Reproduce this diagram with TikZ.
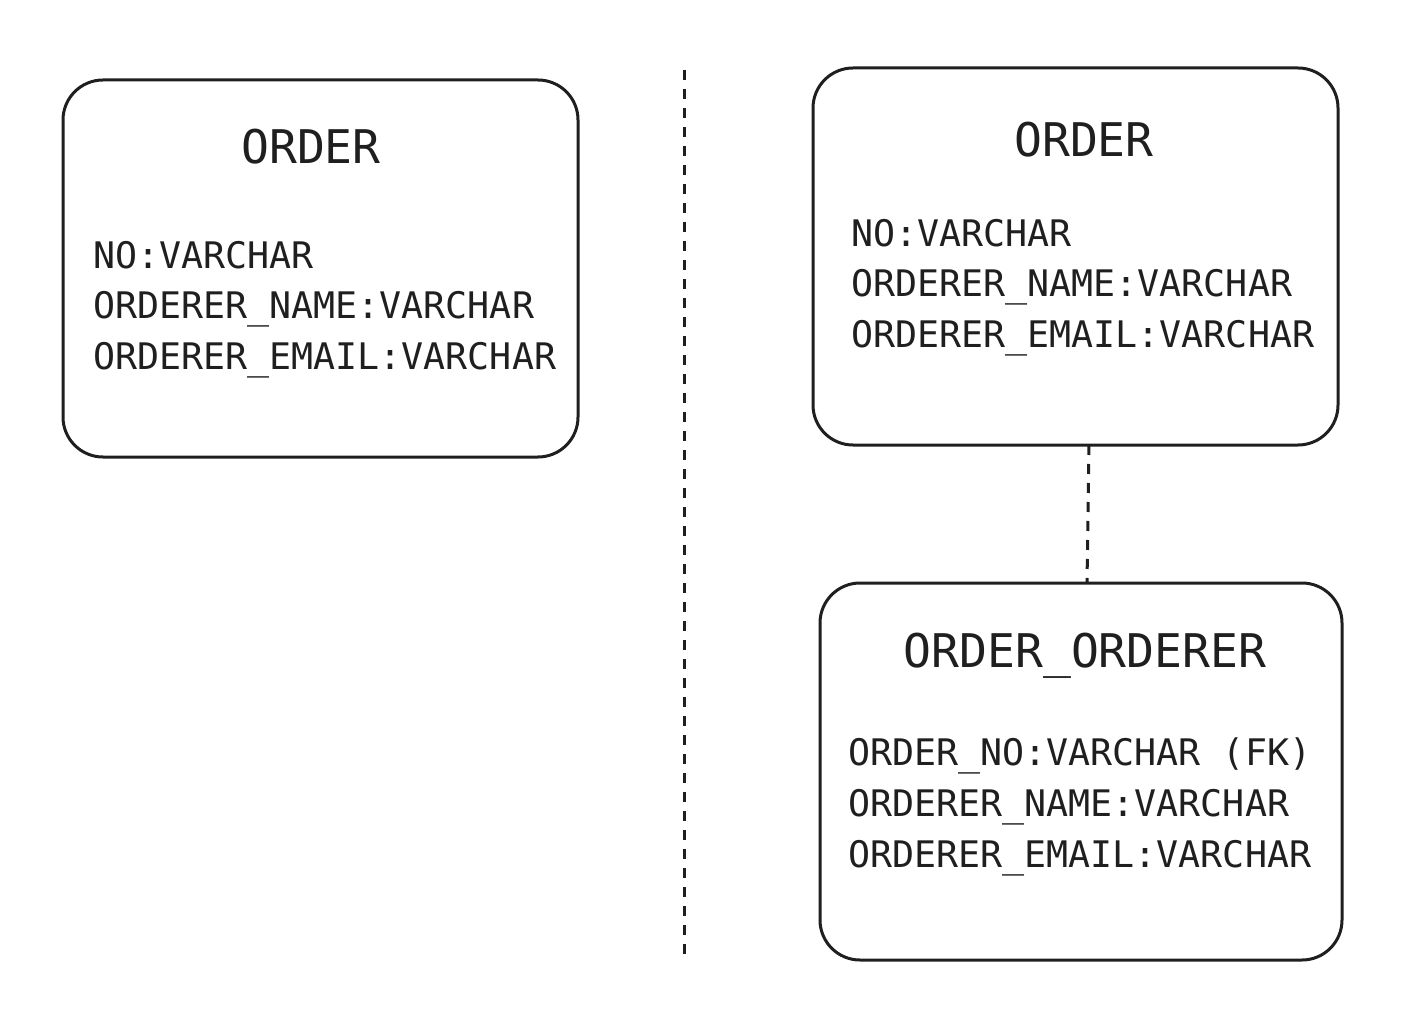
\documentclass[tikz,border=0pt]{standalone}
\usepackage{fontspec}
\setmainfont{DejaVu Sans Mono}
\begin{document}
\begin{tikzpicture}[x=0.5pt,y=-0.5pt,
  tbl/.style={draw=black!88, line width=1.5pt, rounded corners=20pt, inner sep=0pt},
  ttl/.style={font=\fontsize{23.2}{28}\selectfont, text=black!88, anchor=base, inner sep=0pt},
  fld/.style={font=\fontsize{18.3}{25}\selectfont, text=black!88, anchor=base west, inner sep=0pt},
  dsh/.style={draw=black!88, line width=1.5pt, dash pattern=on 5pt off 4.5pt}]
\useasboundingbox (0,0) rectangle (1428,1026);
% left table
\node[tbl, minimum width=257.5pt, minimum height=188.5pt] (lt) at (320.5,268.5) {};
\node[ttl] (ltt) at (311,164) {ORDER};
\node[fld] (l1) at (93,269) {NO:VARCHAR};
\node[fld] (l2) at (93,319) {ORDERER\_NAME:VARCHAR};
\node[fld] (l3) at (93,370) {ORDERER\_EMAIL:VARCHAR};
% divider
\coordinate (d1) at (684,70);
\coordinate (d2) at (684,962);
\draw[dsh] (d1) -- (d2);
% right top
\node[tbl, minimum width=262.5pt, minimum height=188.5pt] (rt) at (1075.5,256.5) {};
\node[ttl] (rtt) at (1084,157) {ORDER};
\node[fld] (r1) at (851,247) {NO:VARCHAR};
\node[fld] (r2) at (851,297) {ORDERER\_NAME:VARCHAR};
\node[fld] (r3) at (851,348) {ORDERER\_EMAIL:VARCHAR};
% right bottom
\node[tbl, minimum width=261pt, minimum height=188.5pt] (rb) at (1081,771.5) {};
\node[ttl] (rbt) at (1085,667) {ORDER\_ORDERER};
\node[fld] (b1) at (848,765) {ORDER\_NO:VARCHAR (FK)};
\node[fld] (b2) at (848,816) {ORDERER\_NAME:VARCHAR};
\node[fld] (b3) at (848,867) {ORDERER\_EMAIL:VARCHAR};
% connector
\coordinate (c1) at (1089,445);
\coordinate (c2) at (1087,583);
\draw[dsh] (c1) -- (c2);
\end{tikzpicture}
\end{document}
